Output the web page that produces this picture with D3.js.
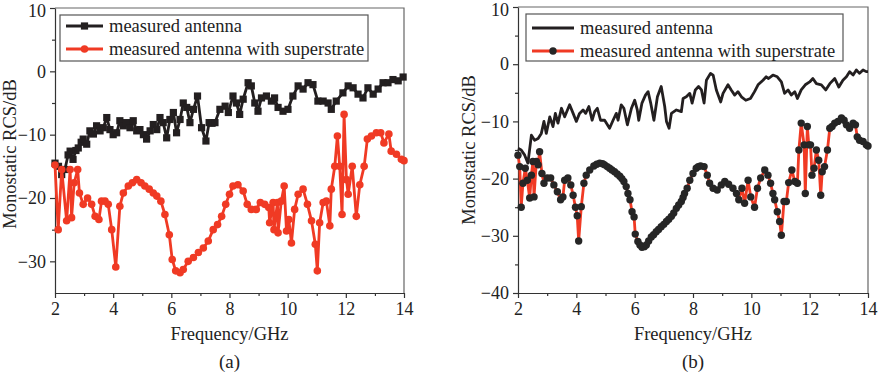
<!DOCTYPE html>
<html>
<head>
  <meta charset="utf-8">
  <title>Monostatic RCS</title>
  <script src="https://d3js.org/d3.v7.min.js"></script>
  <style>
    body { margin: 0; background: white; }
    svg { display: block; font-family: "Liberation Serif", "Times New Roman", serif; }
  </style>
</head>
<body>
<div id="container"></div>
<script>
  // frequency in GHz, RCS in dB
  const antennaA = [[2.0,-14.5],[2.12,-15.0],[2.23,-16.3],[2.34,-15.5],[2.45,-13.2],[2.52,-12.6],[2.62,-13.9],[2.72,-12.5],[2.8,-12.1],[2.9,-11.2],[2.97,-10.7],[3.09,-11.5],[3.2,-9.4],[3.32,-9.9],[3.43,-8.6],[3.55,-9.4],[3.66,-8.9],[3.78,-7.3],[3.89,-9.2],[4.0,-10.0],[4.12,-9.7],[4.23,-7.8],[4.35,-8.6],[4.46,-8.1],[4.58,-8.9],[4.69,-7.8],[4.81,-9.4],[4.92,-9.2],[5.04,-10.0],[5.15,-10.7],[5.27,-9.4],[5.38,-8.4],[5.5,-9.2],[5.61,-7.3],[5.72,-8.1],[5.84,-10.5],[5.95,-7.6],[6.07,-6.5],[6.18,-9.7],[6.3,-7.6],[6.41,-5.0],[6.53,-5.7],[6.64,-8.1],[6.76,-6.0],[6.9,-3.9],[7.04,-8.9],[7.19,-11.0],[7.3,-8.1],[7.4,-8.2],[7.5,-8.1],[7.67,-6.0],[7.85,-5.5],[7.96,-6.5],[8.12,-3.9],[8.24,-5.0],[8.35,-6.8],[8.47,-4.4],[8.64,-1.8],[8.75,-2.3],[8.87,-5.0],[8.98,-6.3],[9.1,-4.2],[9.27,-3.9],[9.44,-4.7],[9.55,-4.2],[9.67,-5.7],[9.84,-6.3],[10.01,-6.0],[10.18,-3.9],[10.36,-2.3],[10.53,-2.8],[10.7,-1.8],[10.87,-2.1],[11.04,-4.7],[11.22,-4.7],[11.39,-5.0],[11.5,-6.0],[11.67,-4.7],[11.9,-3.4],[12.08,-2.3],[12.25,-2.6],[12.42,-3.6],[12.59,-4.2],[12.76,-2.6],[12.94,-3.6],[13.11,-2.8],[13.28,-1.8],[13.45,-1.8],[13.62,-1.3],[13.8,-1.5],[13.97,-0.9]];

  const superA = [[2.0,-14.8],[2.11,-25.0],[2.23,-15.5],[2.4,-23.6],[2.52,-15.5],[2.57,-23.1],[2.66,-17.6],[2.78,-15.5],[2.84,-19.2],[2.97,-21.0],[3.12,-20.0],[3.26,-21.0],[3.38,-22.9],[3.51,-23.4],[3.6,-20.5],[3.72,-20.5],[3.83,-21.0],[3.95,-25.0],[4.09,-30.9],[4.23,-21.3],[4.35,-19.2],[4.52,-18.1],[4.66,-17.6],[4.81,-17.1],[4.96,-17.6],[5.09,-18.1],[5.24,-18.6],[5.38,-19.2],[5.5,-19.7],[5.64,-20.5],[5.78,-22.6],[5.93,-25.8],[6.03,-29.7],[6.15,-31.5],[6.3,-31.8],[6.41,-31.3],[6.58,-30.0],[6.76,-29.4],[6.93,-28.6],[7.1,-27.9],[7.27,-26.8],[7.44,-25.0],[7.59,-24.2],[7.73,-22.9],[7.87,-21.0],[8.0,-19.4],[8.12,-18.1],[8.29,-17.9],[8.47,-18.9],[8.61,-21.0],[8.75,-21.8],[8.92,-21.8],[9.06,-20.7],[9.21,-21.0],[9.35,-21.5],[9.38,-23.9],[9.5,-20.7],[9.53,-25.0],[9.65,-20.7],[9.67,-25.5],[9.78,-20.5],[9.88,-18.1],[9.96,-25.2],[10.04,-23.4],[10.13,-27.1],[10.24,-21.8],[10.36,-19.4],[10.53,-18.6],[10.68,-21.0],[10.82,-23.6],[10.95,-27.3],[11.02,-31.5],[11.1,-23.9],[11.22,-20.7],[11.33,-20.5],[11.45,-24.4],[11.5,-18.6],[11.62,-15.0],[11.71,-10.2],[11.79,-15.0],[11.87,-22.6],[11.94,-6.8],[12.02,-17.1],[12.08,-19.4],[12.22,-15.0],[12.36,-22.9],[12.48,-17.9],[12.63,-15.0],[12.74,-10.7],[12.88,-10.2],[13.05,-9.7],[13.2,-9.7],[13.31,-11.3],[13.48,-9.9],[13.56,-12.6],[13.74,-13.1],[13.91,-13.9],[14.0,-14.1]];

  const antennaB = [[2.0,-14.7],[2.11,-15.0],[2.23,-15.9],[2.34,-17.3],[2.46,-12.4],[2.57,-13.3],[2.69,-13.0],[2.8,-12.1],[2.89,-10.0],[2.97,-12.1],[3.09,-9.2],[3.2,-10.9],[3.28,-8.6],[3.37,-10.3],[3.49,-7.7],[3.6,-9.2],[3.77,-7.1],[3.89,-8.6],[4.0,-10.0],[4.11,-8.6],[4.23,-8.0],[4.32,-8.6],[4.43,-7.4],[4.54,-9.8],[4.63,-8.3],[4.72,-7.7],[4.83,-9.8],[4.97,-9.8],[5.14,-11.2],[5.26,-9.8],[5.37,-8.6],[5.43,-9.8],[5.54,-7.1],[5.63,-7.7],[5.75,-10.6],[5.89,-7.7],[6.0,-6.3],[6.09,-8.0],[6.14,-9.8],[6.25,-6.8],[6.37,-5.4],[6.46,-4.8],[6.55,-6.8],[6.66,-9.8],[6.78,-5.7],[6.91,-3.9],[7.03,-7.4],[7.09,-10.0],[7.18,-11.2],[7.26,-8.6],[7.43,-8.0],[7.6,-8.3],[7.66,-6.0],[7.77,-5.7],[7.89,-5.1],[7.97,-6.8],[8.08,-4.5],[8.19,-3.9],[8.29,-4.5],[8.38,-6.8],[8.46,-2.8],[8.6,-1.6],[8.69,-1.9],[8.8,-4.5],[8.95,-6.6],[9.03,-5.1],[9.2,-3.6],[9.31,-4.5],[9.43,-5.4],[9.54,-4.8],[9.66,-5.7],[9.81,-6.3],[9.97,-6.0],[10.11,-4.8],[10.23,-3.6],[10.4,-2.8],[10.51,-2.2],[10.59,-2.5],[10.74,-1.9],[10.89,-2.2],[11.03,-3.1],[11.14,-5.1],[11.26,-4.5],[11.37,-5.4],[11.49,-4.8],[11.58,-6.0],[11.71,-4.5],[11.85,-3.6],[12.0,-3.1],[12.11,-2.5],[12.23,-3.4],[12.4,-3.6],[12.55,-4.5],[12.69,-3.4],[12.86,-2.5],[13.0,-4.0],[13.14,-2.8],[13.26,-2.2],[13.37,-1.3],[13.49,-1.9],[13.6,-1.0],[13.71,-1.6],[13.83,-1.0],[13.94,-1.3],[14.0,-1.3]];

  const superB = [[2.0,-15.9],[2.06,-17.9],[2.11,-25.0],[2.17,-20.8],[2.25,-18.2],[2.32,-20.3],[2.4,-23.4],[2.46,-19.4],[2.51,-17.0],[2.55,-23.2],[2.63,-17.0],[2.69,-17.6],[2.74,-15.3],[2.82,-19.1],[2.89,-20.8],[3.0,-19.9],[3.12,-19.9],[3.23,-21.1],[3.35,-22.3],[3.46,-23.7],[3.54,-23.2],[3.6,-20.3],[3.71,-19.9],[3.81,-21.1],[3.89,-22.9],[3.97,-25.0],[4.03,-26.5],[4.08,-30.9],[4.17,-24.9],[4.26,-20.8],[4.34,-19.4],[4.46,-18.5],[4.6,-17.8],[4.7,-17.5],[4.8,-17.3],[4.9,-17.4],[4.97,-17.6],[5.06,-17.9],[5.14,-18.2],[5.22,-18.5],[5.31,-18.8],[5.4,-19.2],[5.49,-19.6],[5.56,-20.0],[5.63,-20.5],[5.71,-21.4],[5.77,-22.6],[5.84,-23.7],[5.91,-25.8],[5.98,-26.7],[6.02,-29.7],[6.11,-31.0],[6.18,-31.6],[6.25,-32.0],[6.33,-31.9],[6.4,-31.6],[6.48,-30.9],[6.57,-30.2],[6.65,-29.8],[6.74,-29.3],[6.82,-28.9],[6.91,-28.4],[7.0,-28.0],[7.09,-27.5],[7.17,-27.1],[7.26,-26.6],[7.34,-26.0],[7.43,-25.2],[7.51,-24.6],[7.6,-24.0],[7.66,-23.3],[7.71,-22.6],[7.8,-21.7],[7.89,-20.3],[8.0,-19.1],[8.11,-18.2],[8.18,-17.9],[8.26,-17.8],[8.38,-17.9],[8.49,-19.4],[8.57,-20.8],[8.69,-21.7],[8.83,-22.0],[8.97,-21.1],[9.09,-20.5],[9.22,-21.0],[9.37,-21.7],[9.49,-22.6],[9.57,-23.7],[9.68,-21.7],[9.77,-24.3],[9.89,-20.3],[9.98,-23.2],[10.11,-25.0],[10.21,-21.7],[10.32,-19.9],[10.46,-18.5],[10.57,-19.4],[10.66,-20.8],[10.74,-22.6],[10.8,-23.7],[10.89,-25.8],[10.97,-27.5],[11.03,-29.9],[11.12,-24.0],[11.2,-24.0],[11.28,-20.7],[11.39,-18.5],[11.49,-20.5],[11.58,-20.8],[11.63,-15.0],[11.71,-10.3],[11.81,-14.1],[11.85,-22.6],[11.92,-10.9],[11.97,-14.1],[12.03,-14.1],[12.08,-19.4],[12.15,-18.2],[12.23,-15.0],[12.31,-16.8],[12.38,-22.9],[12.43,-18.8],[12.51,-17.9],[12.61,-15.0],[12.69,-11.2],[12.77,-10.9],[12.86,-10.3],[12.97,-10.0],[13.09,-9.4],[13.18,-9.8],[13.26,-10.6],[13.37,-11.2],[13.49,-10.3],[13.57,-10.6],[13.63,-12.7],[13.71,-13.3],[13.83,-13.5],[13.94,-14.1],[14.0,-14.3]];

  const xMajor = [2, 4, 6, 8, 10, 12, 14];
  const xMinor = [3, 5, 7, 9, 11, 13];
  const yMajorA = [-30, -20, -10, 0, 10];
  const yMinorA = [-25, -15, -5, 5];
  const yMajorB = [-40, -30, -20, -10, 0, 10];
  const yMinorB = [-35, -25, -15, -5, 5];
  const legendLabels = ["measured antenna", "measured antenna with superstrate"];
  const panelLabels = ["(a)", "(b)"];

  const black = "#231f20", red = "#f03a24";

  const svg = d3.select("#container").append("svg")
    .attr("width", 882).attr("height", 374)
    .style("background", "white");

  function panel(opt) {
    const x = d3.scaleLinear().domain([2, 14]).range([opt.left, opt.right]);
    const y = d3.scaleLinear().domain(opt.ydom).range([opt.bottom, opt.top]);
    const g = svg.append("g");

    // frame top + right
    g.append("path")
      .attr("d", "M" + opt.left + "," + opt.top + "H" + opt.right + "V" + opt.bottom)
      .attr("fill", "none").attr("stroke", "#666").attr("stroke-width", 1.2);

    function styleAxis(a) {
      a.selectAll("path, line").attr("stroke", "#333").attr("stroke-width", 1.2);
      a.selectAll("text").attr("font-size", 18).attr("fill", "#222")
        .attr("font-family", "Liberation Serif, serif");
    }

    const xa = g.append("g").attr("transform", "translate(0," + opt.bottom + ")")
      .call(d3.axisBottom(x).tickValues(xMajor).tickSize(5).tickSizeOuter(0).tickPadding(4));
    styleAxis(xa);
    const xm = g.append("g").attr("transform", "translate(0," + opt.bottom + ")")
      .call(d3.axisBottom(x).tickValues(xMinor).tickSize(3).tickFormat(""));
    styleAxis(xm); xm.select(".domain").remove();

    const ya = g.append("g").attr("transform", "translate(" + opt.left + ",0)")
      .call(d3.axisLeft(y).tickValues(opt.yMajor).tickSize(5).tickSizeOuter(0).tickPadding(4));
    styleAxis(ya);
    // keep the top label inside the page
    ya.selectAll(".tick text").filter(d => d === 10).attr("dy", "0.45em");
    const ym = g.append("g").attr("transform", "translate(" + opt.left + ",0)")
      .call(d3.axisLeft(y).tickValues(opt.yMinor).tickSize(3).tickFormat(""));
    styleAxis(ym); ym.select(".domain").remove();

    // axis titles
    const cx = (opt.left + opt.right) / 2;
    g.append("text").attr("x", cx).attr("y", 340).attr("text-anchor", "middle")
      .attr("font-size", 18.5).attr("fill", "#222").text("Frequency/GHz");
    g.append("text").attr("x", cx).attr("y", 368).attr("text-anchor", "middle")
      .attr("font-size", 19).attr("fill", "#222").text(opt.label);
    g.append("text")
      .attr("transform", "translate(" + opt.titleX + "," + (opt.titleY) + ") rotate(-90)")
      .attr("text-anchor", "middle").attr("font-size", 18.5).attr("fill", "#222")
      .text("Monostatic RCS/dB");

    const line = d3.line().x(d => x(d[0])).y(d => y(d[1]));

    // measured antenna
    g.append("path").datum(opt.ant).attr("d", line)
      .attr("fill", "none").attr("stroke", black).attr("stroke-width", 2.8)
      .attr("stroke-linejoin", "round");
    if (opt.squares) {
      g.selectAll(".sq").data(opt.ant).enter().append("rect")
        .attr("x", d => x(d[0]) - 3.6).attr("y", d => y(d[1]) - 3.6)
        .attr("width", 7.2).attr("height", 7.2).attr("fill", black);
    }

    // with superstrate
    g.append("path").datum(opt.sup).attr("d", line)
      .attr("fill", "none").attr("stroke", red).attr("stroke-width", 2.8)
      .attr("stroke-linejoin", "round");
    g.selectAll(".dot").data(opt.sup).enter().append("circle")
      .attr("cx", d => x(d[0])).attr("cy", d => y(d[1]))
      .attr("r", opt.dotR).attr("fill", opt.dotColor);

    // legend
    const L = opt.legend;
    g.append("rect").attr("x", L.x).attr("y", L.y).attr("width", L.w).attr("height", L.h)
      .attr("fill", "white").attr("stroke", "#555").attr("stroke-width", 1.2);
    legendLabels.forEach((t, i) => {
      const ly = L.y + L.row0 + i * L.dy;
      const col = i === 0 ? black : red;
      g.append("line").attr("x1", L.x + 6).attr("x2", L.x + 6 + L.lw)
        .attr("y1", ly).attr("y2", ly).attr("stroke", col).attr("stroke-width", 2.8);
      const mx = L.x + 6 + L.lw / 2;
      if (i === 0 && opt.squares) {
        g.append("rect").attr("x", mx - 3.6).attr("y", ly - 3.6)
          .attr("width", 7.2).attr("height", 7.2).attr("fill", black);
      }
      if (i === 1) {
        g.append("circle").attr("cx", mx).attr("cy", ly).attr("r", opt.dotR)
          .attr("fill", opt.dotColor);
      }
      g.append("text").attr("x", L.x + 6 + L.lw + 6).attr("y", ly + 6)
        .attr("font-size", 18.5).attr("fill", "#222").text(t);
    });
  }

  panel({
    left: 55, right: 404, top: 8, bottom: 293, ydom: [-35, 10],
    yMajor: yMajorA, yMinor: yMinorA, titleX: 16, titleY: 154, label: panelLabels[0],
    ant: antennaA, sup: superA, squares: true, dotR: 3.8, dotColor: red,
    legend: { x: 60, y: 15, w: 308, h: 46, row0: 11, dy: 23, lw: 37 }
  });

  panel({
    left: 518, right: 868, top: 7, bottom: 293, ydom: [-40, 10],
    yMajor: yMajorB, yMinor: yMinorB, titleX: 475, titleY: 150, label: panelLabels[1],
    ant: antennaB, sup: superB, squares: false, dotR: 3.7, dotColor: "#262626",
    legend: { x: 526, y: 14, w: 317, h: 47, row0: 14, dy: 23, lw: 42 }
  });
</script>
</body>
</html>
